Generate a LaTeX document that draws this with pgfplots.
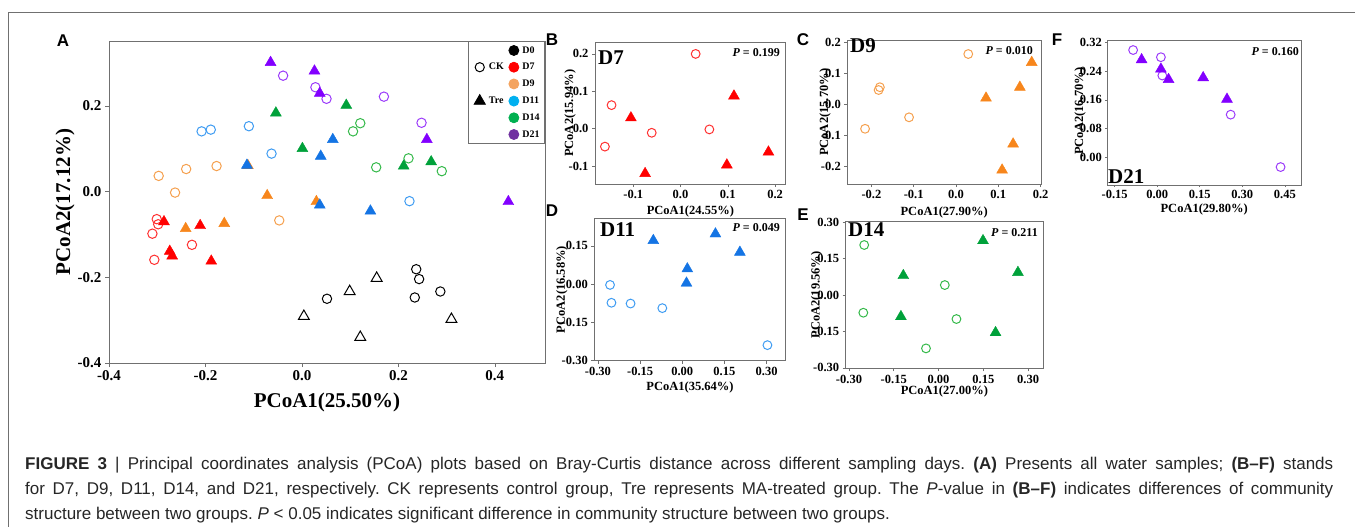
\documentclass[border=0pt]{standalone}
\usepackage{pgfplots}
\pgfplotsset{compat=1.18}
\usepackage{fontspec}
\setmainfont{Liberation Serif}
\newfontfamily\capfont{Liberation Sans}

\definecolor{cRed}{HTML}{FF0000}
\definecolor{cRedO}{HTML}{FF3030}
\definecolor{cOrg}{HTML}{F7861C}
\definecolor{cOrgO}{HTML}{F5A04E}
\definecolor{cBlu}{HTML}{1474E4}
\definecolor{cBluO}{HTML}{3F9CF2}
\definecolor{cGrn}{HTML}{00A13A}
\definecolor{cGrnO}{HTML}{35B94A}
\definecolor{cPur}{HTML}{8200FF}
\definecolor{cPurO}{HTML}{9B3BFA}
\definecolor{lgOrg}{HTML}{F4A460}
\definecolor{lgBlu}{HTML}{00B0F0}
\definecolor{lgGrn}{HTML}{00B050}
\definecolor{lgPur}{HTML}{7030A0}
\definecolor{axgray}{HTML}{707070}
\definecolor{capgray}{HTML}{262626}

\pgfplotsset{
  pcoa/.style={
    scale only axis, anchor=south west,
    axis line style={axgray, line width=0.8pt},
    tick style={axgray, line width=0.6pt},
    major tick length=3pt,
    tick align=outside, tick pos=left,
    /pgf/number format/assume math mode=true,
    tick label style={font=\bfseries\fontsize{12.5}{13}\selectfont},
    label style={font=\bfseries\fontsize{12.5}{13}\selectfont},
    xlabel style={anchor=center},
    ylabel style={anchor=center},
  },
  ck/.style={only marks, mark=o, mark size=4.4pt, line width=1pt},
  tr/.style={only marks, mark=triangle*, mark size=6.3pt},
  trO/.style={only marks, mark=triangle, mark size=6.3pt, line width=1pt},
}

\begin{document}
\begin{tikzpicture}
\useasboundingbox (0pt,0pt) rectangle (1355pt,-527pt);
\draw[axgray, line width=0.9pt] (8pt,-527pt) -- (8pt,-12.5pt) -- (1355pt,-12.5pt);

% ---------- A: all samples
\begin{axis}[pcoa, at={(109pt,-363pt)}, width=436pt, height=322pt,
  xmin=-0.4, xmax=0.504, ymin=-0.4, ymax=0.352,
  xtick={-0.4,-0.2,0,0.2,0.4}, ytick={-0.4,-0.2,0,0.2},
  major tick length=4pt,
  tick label style={font=\bfseries\fontsize{15}{15}\selectfont},
  label style={font=\bfseries\fontsize{21}{21}\selectfont},
  xticklabel style={/pgf/number format/.cd, fixed, fixed zerofill, precision=1},
  yticklabel style={/pgf/number format/.cd, fixed, fixed zerofill, precision=1},
  xlabel={PCoA1(25.50\%)}, ylabel={PCoA2(17.12\%)},
  xlabel style={at={(axis description cs:0.5,-0.124)}},
  ylabel style={at={(axis description cs:-0.101,0.5)}},
  ck/.append style={mark size=4.7pt},
  legend columns=2,
  legend style={at={(1,1)}, anchor=north east, draw=axgray, line width=0.8pt,
    font=\bfseries\fontsize{10}{10}\selectfont, row sep=4.6pt,
    inner xsep=3pt, inner ysep=3pt,
    /tikz/every odd column/.append style={column sep=1.5pt},
    /tikz/every even column/.append style={column sep=3pt}},
  legend cell align=left,
]
\addplot[ck, black, forget plot] coordinates {(0.052,-0.250) (0.237,-0.181) (0.243,-0.204) (0.234,-0.247) (0.287,-0.233)};
\addplot[trO, black, forget plot] coordinates {(0.004,-0.291) (0.099,-0.233) (0.155,-0.202) (0.121,-0.340) (0.310,-0.298)};
\addplot[ck, cRedO, forget plot] coordinates {(-0.301,-0.064) (-0.298,-0.076) (-0.310,-0.098) (-0.228,-0.124) (-0.306,-0.159)};
\addplot[tr, cRed, forget plot] coordinates {(-0.286,-0.070) (-0.211,-0.079) (-0.274,-0.139) (-0.269,-0.150) (-0.188,-0.162)};
\addplot[ck, cOrgO, forget plot] coordinates {(-0.297,0.037) (-0.240,0.053) (-0.177,0.060) (-0.263,-0.002) (-0.047,-0.067)};
\addplot[tr, cOrg, forget plot] coordinates {(-0.112,0.061) (-0.072,-0.009) (0.030,-0.023) (-0.241,-0.086) (-0.161,-0.074)};
\addplot[ck, cBluO, forget plot] coordinates {(-0.208,0.141) (-0.189,0.145) (-0.110,0.153) (-0.063,0.089) (0.223,-0.022)};
\addplot[tr, cBlu, forget plot] coordinates {(-0.114,0.062) (0.064,0.122) (0.039,0.083) (0.037,-0.031) (0.142,-0.045)};
\addplot[ck, cGrnO, forget plot] coordinates {(0.121,0.160) (0.106,0.141) (0.221,0.078) (0.154,0.057) (0.290,0.048)};
\addplot[tr, cGrn, forget plot] coordinates {(-0.054,0.184) (0.092,0.202) (0.001,0.101) (0.211,0.060) (0.268,0.070)};
\addplot[ck, cPurO, forget plot] coordinates {(-0.039,0.271) (0.028,0.244) (0.051,0.217) (0.170,0.222) (0.248,0.161)};
\addplot[tr, cPur, forget plot] coordinates {(-0.065,0.302) (0.026,0.282) (0.037,0.230) (0.259,0.122) (0.428,-0.023)};

\addlegendimage{empty legend}\addlegendentry{}
\addlegendimage{only marks, mark=*, mark size=5pt, black}\addlegendentry{D0}
\addlegendimage{only marks, mark=o, mark size=4.6pt, line width=1pt, black}\addlegendentry{CK}
\addlegendimage{only marks, mark=*, mark size=5pt, red}\addlegendentry{D7}
\addlegendimage{empty legend}\addlegendentry{}
\addlegendimage{only marks, mark=*, mark size=5pt, lgOrg}\addlegendentry{D9}
\addlegendimage{only marks, mark=triangle*, mark size=6.5pt, black}\addlegendentry{Tre}
\addlegendimage{only marks, mark=*, mark size=5pt, lgBlu}\addlegendentry{D11}
\addlegendimage{empty legend}\addlegendentry{}
\addlegendimage{only marks, mark=*, mark size=5pt, lgGrn}\addlegendentry{D14}
\addlegendimage{empty legend}\addlegendentry{}
\addlegendimage{only marks, mark=*, mark size=5pt, lgPur}\addlegendentry{D21}
\end{axis}

% ---------- B: D7
\begin{axis}[pcoa, at={(595pt,-184pt)}, width=190.7pt, height=141.3pt,
  xmin=-0.181, xmax=0.2225, ymin=-0.148, ymax=0.230,
  xtick={-0.1,0,0.1,0.2}, ytick={-0.1,0,0.1,0.2},
  xticklabel style={/pgf/number format/.cd, fixed, fixed zerofill, precision=1},
  yticklabel style={/pgf/number format/.cd, fixed, fixed zerofill, precision=1},
  xlabel={PCoA1(24.55\%)}, ylabel={PCoA2(15.94\%)},
  xlabel style={at={(axis description cs:0.5,-0.196)}},
  ylabel style={at={(axis description cs:-0.131,0.5)}},
]
\addplot[ck, cRedO] coordinates {(0.032,0.200) (-0.146,0.063) (-0.061,-0.011) (-0.160,-0.048) (0.061,-0.002)};
\addplot[tr, cRed] coordinates {(0.113,0.0875) (-0.105,0.029) (-0.075,-0.120) (0.098,-0.097) (0.186,-0.0625)};
\end{axis}

% ---------- C: D9
\begin{axis}[pcoa, at={(847.3pt,-184pt)}, width=193.7pt, height=143.3pt,
  xmin=-0.257, xmax=0.201, ymin=-0.258, ymax=0.204,
  xtick={-0.2,-0.1,0,0.1,0.2}, ytick={-0.2,-0.1,0,0.1,0.2},
  xticklabel style={/pgf/number format/.cd, fixed, fixed zerofill, precision=1},
  yticklabel style={/pgf/number format/.cd, fixed, fixed zerofill, precision=1},
  xlabel={PCoA1(27.90\%)}, ylabel={PCoA2(15.70\%)},
  xlabel style={at={(axis description cs:0.5,-0.200)}},
  ylabel style={at={(axis description cs:-0.115,0.5)}},
]
\addplot[ck, cOrgO] coordinates {(0.029,0.161) (-0.180,0.054) (-0.183,0.045) (-0.111,-0.043) (-0.215,-0.080)};
\addplot[tr, cOrg] coordinates {(0.179,0.134) (0.151,0.054) (0.071,0.019) (0.135,-0.129) (0.109,-0.213)};
\end{axis}

% ---------- F: D21
\begin{axis}[pcoa, at={(1107.3pt,-185pt)}, width=193.7pt, height=144.3pt,
  xmin=-0.176, xmax=0.507, ymin=-0.077, ymax=0.325,
  xtick={-0.15,0,0.15,0.30,0.45}, ytick={0,0.08,0.16,0.24,0.32},
  major tick length=2pt,
  xticklabel style={/pgf/number format/.cd, fixed, fixed zerofill, precision=2},
  yticklabel style={/pgf/number format/.cd, fixed, fixed zerofill, precision=2},
  xlabel={PCoA1(29.80\%)}, ylabel={.PCoA2(16.70\%)},
  xlabel style={at={(axis description cs:0.5,-0.170)}},
  ylabel style={at={(axis description cs:-0.141,0.5)}},
]
\addplot[ck, cPurO] coordinates {(-0.085,0.299) (0.013,0.279) (0.018,0.228) (0.259,0.119) (0.435,-0.027)};
\addplot[tr, cPur] coordinates {(-0.055,0.272) (0.013,0.246) (0.040,0.217) (0.162,0.222) (0.246,0.162)};
\end{axis}

% ---------- D: D11
\begin{axis}[pcoa, at={(594.3pt,-360.7pt)}, width=191.4pt, height=142.4pt,
  xmin=-0.313, xmax=0.368, ymin=-0.30, ymax=0.258,
  xtick={-0.30,-0.15,0,0.15,0.30}, ytick={-0.30,-0.15,0,0.15},
  xticklabel style={/pgf/number format/.cd, fixed, fixed zerofill, precision=2},
  yticklabel style={/pgf/number format/.cd, fixed, fixed zerofill, precision=2},
  xlabel={PCoA1(35.64\%)}, ylabel={PCoA2(16.58\%)},
  xlabel style={at={(axis description cs:0.5,-0.190)}},
  ylabel style={at={(axis description cs:-0.170,0.5)}},
]
\addplot[ck, cBluO] coordinates {(-0.257,-0.003) (-0.252,-0.073) (-0.184,-0.076) (-0.071,-0.094) (0.303,-0.239)};
\addplot[tr, cBlu] coordinates {(-0.103,0.171) (0.118,0.197) (0.205,0.125) (0.018,0.060) (0.015,0.004)};
\end{axis}

% ---------- E: D14
\begin{axis}[pcoa, at={(845.7pt,-368.3pt)}, width=197.3pt, height=146.6pt,
  xmin=-0.311, xmax=0.350, ymin=-0.302, ymax=0.302,
  xtick={-0.30,-0.15,0,0.15,0.30}, ytick={-0.30,-0.15,0,0.15,0.30},
  xticklabel style={/pgf/number format/.cd, fixed, fixed zerofill, precision=2},
  yticklabel style={/pgf/number format/.cd, fixed, fixed zerofill, precision=2},
  xlabel={PCoA1(27.00\%)}, ylabel={PCoA2(19.56\%)},
  xlabel style={at={(axis description cs:0.5,-0.160)}},
  ylabel style={at={(axis description cs:-0.147,0.5)}},
]
\addplot[ck, cGrnO] coordinates {(-0.249,0.206) (-0.252,-0.073) (0.021,0.041) (0.060,-0.099) (-0.042,-0.220)};
\addplot[tr, cGrn] coordinates {(0.149,0.224) (0.266,0.093) (-0.118,0.080) (-0.126,-0.089) (0.191,-0.155)};
\end{axis}

% panel letters
\begin{scope}[every node/.style={font=\capfont\bfseries\fontsize{17}{17}\selectfont}]
\node at (63pt,-41pt) {A};
\node at (552pt,-40pt) {B};
\node at (803pt,-40pt) {C};
\node at (1057pt,-40pt) {F};
\node at (552pt,-211pt) {D};
\node at (803pt,-215pt) {E};
\end{scope}

% group names and P values
\begin{scope}[every node/.style={font=\bfseries\fontsize{21}{21}\selectfont, anchor=west, inner sep=0pt}]
\node at (598pt,-58pt) {D7};
\node at (850pt,-46pt) {D9};
\node at (1108pt,-177pt) {D21};
\node at (600pt,-230pt) {D11};
\node at (848pt,-230pt) {D14};
\end{scope}
\begin{scope}[every node/.style={font=\bfseries\fontsize{12}{12}\selectfont, anchor=east, inner sep=0pt}]
\node at (780pt,-53pt) {\textit{P} = 0.199};
\node at (1033pt,-51pt) {\textit{P} = 0.010};
\node at (1299pt,-52pt) {\textit{P} = 0.160};
\node at (780pt,-228pt) {\textit{P} = 0.049};
\node at (1038pt,-233pt) {\textit{P} = 0.211};
\end{scope}

% caption
\begin{scope}[every node/.style={font=\capfont\fontsize{17}{17}\selectfont\frenchspacing, text=capgray, anchor=base west, inner sep=0pt}]
\node at (25pt,-469pt) {\makebox[1308pt][s]{\textbf{FIGURE 3} | Principal coordinates analysis (PCoA) plots based on Bray-Curtis distance across different sampling days. \textbf{(A)} Presents all water samples; \textbf{(B–F)} stands}};
\node at (25pt,-494pt) {\makebox[1308pt][s]{for D7, D9, D11, D14, and D21, respectively. CK represents control group, Tre represents MA-treated group. The \textit{P}-value in \textbf{(B–F)} indicates differences of community}};
\node at (25pt,-519pt) {structure between two groups. \textit{P} < 0.05 indicates significant difference in community structure between two groups.};
\end{scope}
\end{tikzpicture}
\end{document}
